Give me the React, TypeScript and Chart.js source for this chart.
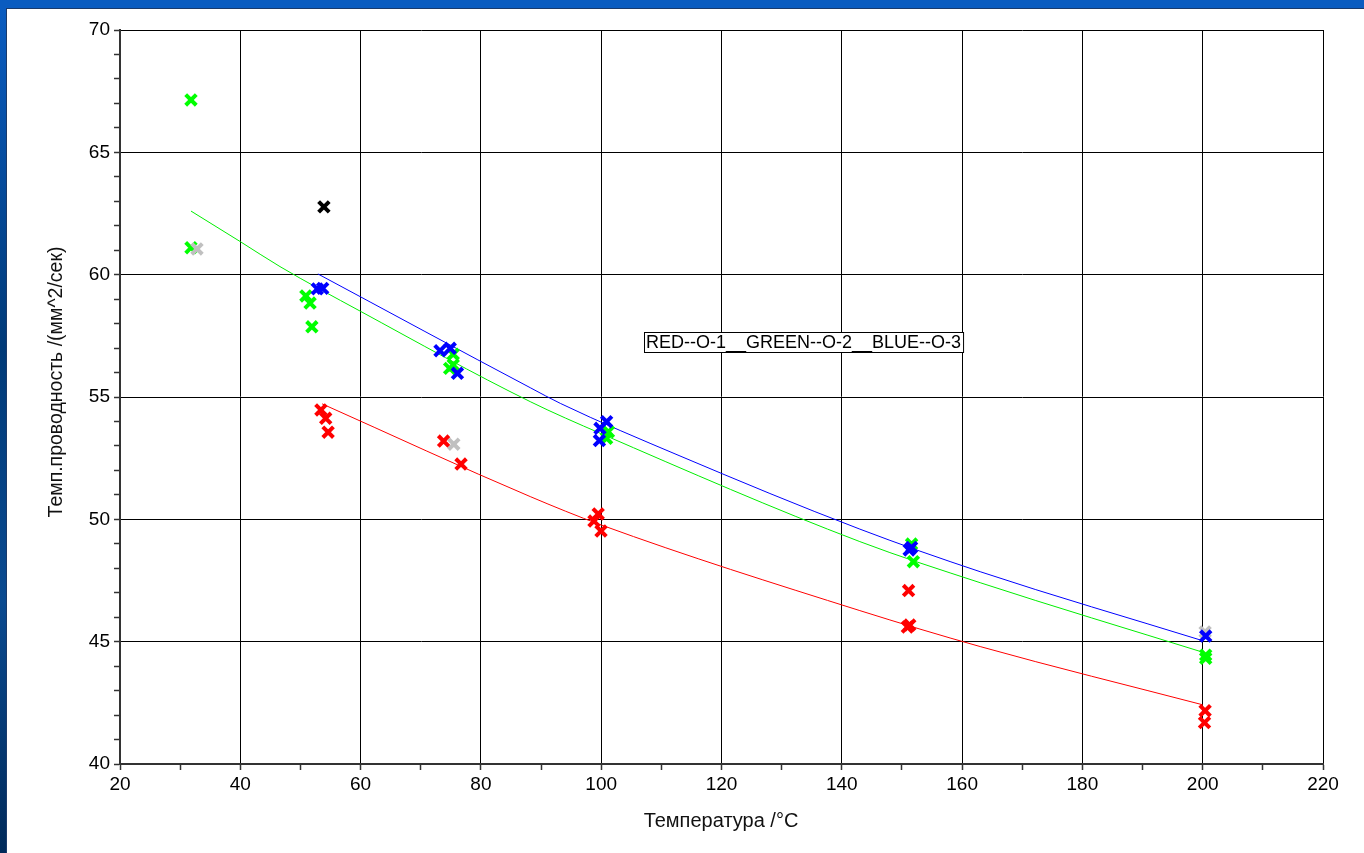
import React, { useEffect, useRef } from "react";
import { Chart, registerables } from "chart.js";

Chart.register(...registerables);

const xTickLabels = [20, 40, 60, 80, 100, 120, 140, 160, 180, 200, 220];
const yTickLabels = [40, 45, 50, 55, 60, 65, 70];

const greenPoints = [
  { x: 31.8, y: 67.14 }, { x: 31.8, y: 61.1 }, { x: 50.9, y: 59.13 }, { x: 51.6, y: 58.84 },
  { x: 51.9, y: 57.87 }, { x: 75.4, y: 56.75 }, { x: 75.4, y: 56.31 }, { x: 74.8, y: 56.17 },
  { x: 101.2, y: 53.58 }, { x: 100.9, y: 53.31 }, { x: 151.6, y: 48.99 }, { x: 151.9, y: 48.27 },
  { x: 200.5, y: 44.45 }, { x: 200.5, y: 44.32 },
];
const redPoints = [
  { x: 53.4, y: 54.47 }, { x: 54.2, y: 54.13 }, { x: 54.6, y: 53.56 }, { x: 73.8, y: 53.2 },
  { x: 76.7, y: 52.26 }, { x: 99.5, y: 50.22 }, { x: 98.8, y: 49.93 }, { x: 99.97, y: 49.52 },
  { x: 151.1, y: 47.09 }, { x: 151.3, y: 45.68 }, { x: 150.9, y: 45.6 }, { x: 200.4, y: 42.18 },
  { x: 200.3, y: 41.69 },
];
const bluePoints = [
  { x: 52.8, y: 59.42 }, { x: 53.7, y: 59.44 }, { x: 73.2, y: 56.89 }, { x: 74.9, y: 56.99 },
  { x: 76.1, y: 55.97 }, { x: 100.9, y: 53.99 }, { x: 99.8, y: 53.72 }, { x: 99.7, y: 53.22 },
  { x: 151.2, y: 48.75 }, { x: 151.6, y: 48.85 }, { x: 200.5, y: 45.23 },
];
const grayPoints = [{ x: 32.8, y: 61.05 }, { x: 75.5, y: 53.07 }, { x: 200.4, y: 45.4 }];
const blackPoints = [{ x: 53.9, y: 62.77 }];

const greenFit = [
  { x: 31.8, y: 62.6 }, { x: 40, y: 61.35 }, { x: 46.6, y: 60.33 }, { x: 60, y: 58.5 },
  { x: 88.2, y: 54.81 }, { x: 100, y: 53.5 }, { x: 143, y: 49.09 }, { x: 163, y: 47.41 },
  { x: 200, y: 44.57 },
];
const blueFit = [
  { x: 52.9, y: 60.03 }, { x: 88.2, y: 55.38 }, { x: 93.2, y: 54.74 }, { x: 113.1, y: 52.59 },
  { x: 143, y: 49.6 }, { x: 163, y: 47.86 }, { x: 200, y: 45.04 },
];
const redFit = [
  { x: 53.6, y: 54.72 }, { x: 88.2, y: 50.93 }, { x: 100, y: 49.77 }, { x: 143, y: 46.27 },
  { x: 163, y: 44.8 }, { x: 200, y: 42.42 },
];

const noteText = "RED--O-1__GREEN--O-2__BLUE--O-3";
const noteAt = { x: 107.1, y: 57.25 };
const xTitle = "Температура /°C";
const yTitle = "Темп.проводность /(мм^2/сек)";

const FONT = "'Liberation Sans', Arial, sans-serif";

const annotationPlugin = {
  id: "annotations",
  afterDatasetsDraw(chart: any) {
    const { ctx, scales } = chart;
    const xs = scales.x;
    const ys = scales.y;
    ctx.save();
    ctx.font = `18px ${FONT}`;
    const w = ctx.measureText(noteText).width;
    const left = Math.round(xs.getPixelForValue(noteAt.x));
    const cy = ys.getPixelForValue(noteAt.y);
    const top = Math.round(cy - 10);
    ctx.fillStyle = "#fff";
    ctx.fillRect(left + 0.5, top + 0.5, w + 4, 20);
    ctx.strokeStyle = "#000";
    ctx.lineWidth = 1;
    ctx.strokeRect(left + 0.5, top + 0.5, w + 4, 20);
    ctx.fillStyle = "#000";
    ctx.textBaseline = "middle";
    ctx.textAlign = "left";
    ctx.fillText(noteText, left + 2, top + 11);
    ctx.fillStyle = "#111";
    ctx.textAlign = "center";
    ctx.textBaseline = "middle";
    ctx.font = `20px ${FONT}`;
    ctx.fillText(xTitle, 721, 821);
    ctx.font = `19.5px ${FONT}`;
    ctx.translate(57, 382);
    ctx.rotate(-Math.PI / 2);
    ctx.fillText(yTitle, 0, 0);
    ctx.restore();
  },
};

const markerStyle = (color: string) => ({
  type: "scatter" as const,
  showLine: false,
  pointStyle: "crossRot",
  pointRadius: 7.5,
  pointBorderWidth: 4,
  borderColor: color,
  backgroundColor: color,
});

const lineStyle = (color: string) => ({
  type: "line" as const,
  borderColor: color,
  borderWidth: 1,
  pointRadius: 0,
  fill: false,
  cubicInterpolationMode: "monotone" as const,
});

export default function App() {
  const ref = useRef<HTMLCanvasElement | null>(null);
  useEffect(() => {
    if (!ref.current) return;
    const chart = new Chart(ref.current, {
      type: "scatter",
      data: {
        datasets: [
          { ...markerStyle("#0000ff"), data: bluePoints },
          { ...markerStyle("#c0c0c0"), data: grayPoints },
          { ...markerStyle("#00ff00"), data: greenPoints },
          { ...markerStyle("#ff0000"), data: redPoints },
          { ...markerStyle("#000000"), data: blackPoints },
          { ...lineStyle("#0000ff"), data: blueFit },
          { ...lineStyle("#00ee00"), data: greenFit },
          { ...lineStyle("#ff0000"), data: redFit },
        ] as any,
      },
      options: {
        animation: false,
        responsive: false,
        devicePixelRatio: 1,
        layout: { padding: { left: 0, top: 30, right: 41, bottom: 0 } },
        plugins: { legend: { display: false }, tooltip: { enabled: false } },
        scales: {
          x: {
            type: "linear",
            min: 20,
            max: 220,
            afterFit: (s: any) => { s.height = 89; },
            ticks: {
              stepSize: 10,
              autoSkip: false,
              maxRotation: 0,
              padding: 3,
              color: "#000",
              font: { family: FONT, size: 19 },
              callback: (v: any) => (xTickLabels.includes(Number(v)) ? String(v) : ""),
            },
            grid: {
              color: (c: any) => (c.tick && c.tick.value % 20 === 0 ? "#000" : "rgba(0,0,0,0)"),
              lineWidth: 1,
              tickColor: "#333",
              tickLength: 6,
              tickWidth: 1.5,
            },
            border: { display: true, color: "#333", width: 2 },
          },
          y: {
            type: "linear",
            min: 40,
            max: 70,
            afterFit: (s: any) => { s.width = 120; },
            ticks: {
              stepSize: 1,
              autoSkip: false,
              padding: 4,
              color: "#000",
              font: { family: FONT, size: 19 },
              callback: (v: any) => (yTickLabels.includes(Number(v)) ? String(v) : ""),
            },
            grid: {
              color: (c: any) => (c.tick && c.tick.value % 5 === 0 ? "#000" : "rgba(0,0,0,0)"),
              lineWidth: 1,
              tickColor: "#333",
              tickLength: 6,
              tickWidth: 1.5,
            },
            border: { display: true, color: "#333", width: 2 },
          },
        },
      },
      plugins: [annotationPlugin],
    });
    return () => chart.destroy();
  }, []);

  return (
    <div style={{ position: "fixed", left: 0, top: 0, width: 1364, height: 853, background: "#0a5cc0", overflow: "hidden" }}>
      <div style={{ position: "absolute", left: 0, top: 9, width: 6, height: 844, background: "linear-gradient(#0a5cc0, #003a78 40%, #0a4a90 70%, #002a5a)" }} />
      <div style={{ position: "absolute", left: 6, top: 8, right: 0, bottom: 0, background: "#fff", borderLeft: "1px solid #1a3a6a", borderTop: "1px solid #1a3a6a" }} />
      <canvas ref={ref} width={1364} height={853} style={{ position: "absolute", left: 0, top: 0, width: 1364, height: 853 }} />
    </div>
  );
}
